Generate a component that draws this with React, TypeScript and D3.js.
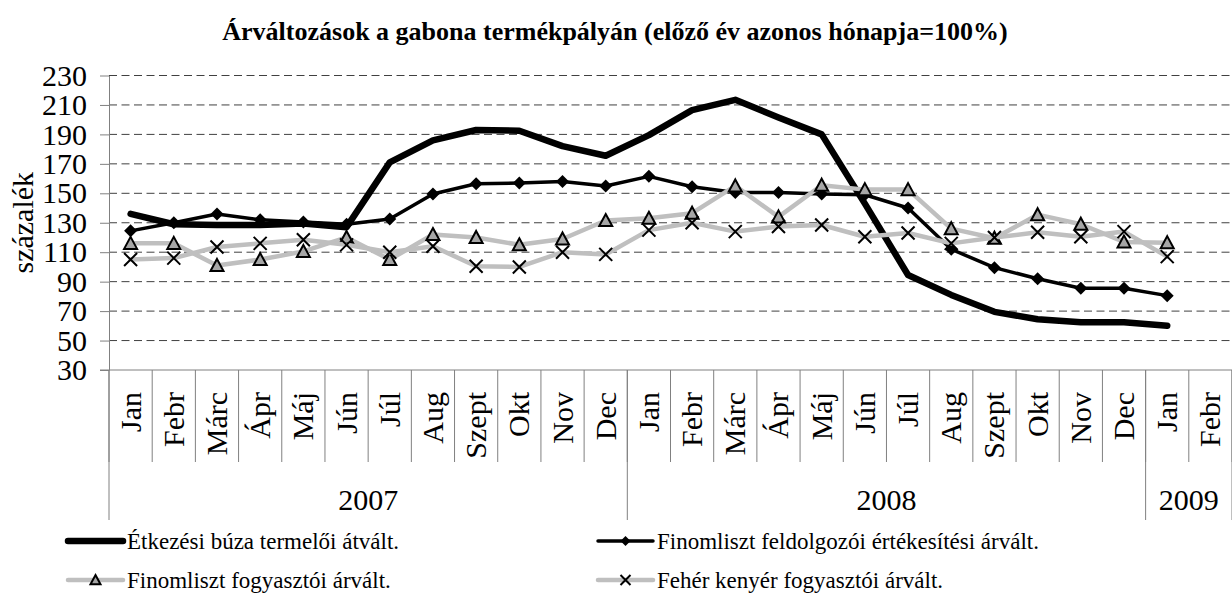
import React, { useEffect, useRef } from 'react';
import * as d3 from 'd3';

// categories (bottom axis)
const months = [
    'Jan', 'Febr', 'Márc', 'Ápr', 'Máj', 'Jún', 'Júl', 'Aug', 'Szept', 'Okt', 'Nov', 'Dec',
    'Jan', 'Febr', 'Márc', 'Ápr', 'Máj', 'Jún', 'Júl', 'Aug', 'Szept', 'Okt', 'Nov', 'Dec',
    'Jan', 'Febr',
];
const yearLabels = ['2007', '2008', '2009'];
const yearSpans = [12, 12, 2];
const yTicks = [30, 50, 70, 90, 110, 130, 150, 170, 190, 210, 230];

const seriesNames = [
    'Étkezési búza termelői átvált.',
    'Finomliszt feldolgozói értékesítési árvált.',
    'Finomliszt fogyasztói árvált.',
    'Fehér kenyér fogyasztói árvált.',
];

// values, % of same month of previous year (Febr 2009 has no data)
const buza = [136, 129, 128.5, 128.5, 129.5, 127, 171, 186, 193, 192.5, 182, 175.5,
    189.5, 206.5, 213.5, 201.5, 190, 143, 94.5, 81, 69.5, 64.5, 62.5, 62.5, 60, null];
const lisztFeldolg = [124.5, 130, 136, 132, 130.5, 129, 132.5, 149.5, 156.5, 157, 158, 155,
    161.5, 154.5, 150.5, 150.5, 149.5, 149, 140, 112, 99.5, 92, 85.5, 85.5, 80.5, null];
const lisztFogy = [116, 116, 101, 105, 110.5, 120, 105, 122, 120, 115, 119, 131.5,
    133, 136.5, 155, 134, 155.5, 152.5, 152.5, 126, 119.5, 135.5, 129, 117, 116.5, null];
const kenyer = [105, 106, 113.5, 116, 118.5, 115, 110, 114, 100.5, 100, 110, 108.5,
    125, 130, 124, 127.5, 128.5, 120.5, 123, 116, 120, 123.5, 120.5, 124, 107, null];

const FONT = '"Liberation Serif", "Times New Roman", serif';
const GREY = '#bfbfbf';

const App = () => {
    const svgRef = useRef(null);

    useEffect(() => {
        if (!svgRef.current) return;
        const svg = d3.select(svgRef.current);
        svg.selectAll('*').remove();

        const left = 109, right = 1232, top = 75.5, bottom = 370;

        const x = d3.scaleBand<number>()
            .domain(months.map((_, i) => i))
            .range([left, right]);
        const bw = x.bandwidth();
        const cx = (i: number) => (x(i) as number) + bw / 2;

        const y = d3.scaleLinear()
            .domain([30, 230])
            .range([bottom, top]);

        // Title
        svg.append('text')
            .attr('x', 615)
            .attr('y', 40)
            .attr('text-anchor', 'middle')
            .attr('font-family', FONT)
            .attr('font-weight', 'bold')
            .attr('font-size', 26)
            .text('Árváltozások a gabona termékpályán (előző év azonos hónapja=100%)');

        // Gridlines (dashed)
        svg.append('g')
            .selectAll('line')
            .data(yTicks.filter(t => t !== 30))
            .join('line')
            .attr('x1', left)
            .attr('x2', right)
            .attr('y1', d => y(d))
            .attr('y2', d => y(d))
            .attr('stroke', '#404040')
            .attr('stroke-width', 1)
            .attr('stroke-dasharray', '8,4.5');

        // Y axis
        const yAxis = d3.axisLeft(y)
            .tickValues(yTicks)
            .tickSize(9)
            .tickSizeOuter(0)
            .tickPadding(13);
        const ya = svg.append('g')
            .attr('transform', `translate(${left},0)`)
            .attr('font-family', FONT)
            .call(yAxis);
        ya.selectAll('line').attr('stroke', '#808080');
        ya.select('.domain').attr('stroke', '#808080');
        ya.selectAll('text')
            .attr('font-family', FONT)
            .attr('font-size', 30)
            .attr('fill', '#000');

        svg.append('text')
            .attr('transform', `translate(33,${(top + bottom) / 2}) rotate(-90)`)
            .attr('text-anchor', 'middle')
            .attr('font-family', FONT)
            .attr('font-size', 30)
            .text('százalék');

        // X axis: line, month dividers, year dividers
        const xa = svg.append('g');
        xa.append('line')
            .attr('x1', left - 9).attr('x2', right)
            .attr('y1', bottom).attr('y2', bottom)
            .attr('stroke', '#808080');

        const bounds = d3.range(months.length + 1).map(i => left + i * bw);
        xa.selectAll('line.m')
            .data(bounds)
            .join('line')
            .attr('class', 'm')
            .attr('x1', d => d).attr('x2', d => d)
            .attr('y1', bottom).attr('y2', 462)
            .attr('stroke', '#808080');

        const yearBounds = [0, ...d3.cumsum(yearSpans)];
        xa.selectAll('line.y')
            .data(yearBounds)
            .join('line')
            .attr('class', 'y')
            .attr('x1', d => left + d * bw).attr('x2', d => left + d * bw)
            .attr('y1', bottom).attr('y2', 520)
            .attr('stroke', '#808080');

        xa.selectAll('text.m')
            .data(months)
            .join('text')
            .attr('class', 'm')
            .attr('transform', (d, i) => `translate(${cx(i) + 10},392) rotate(-90)`)
            .attr('text-anchor', 'end')
            .attr('font-family', FONT)
            .attr('font-size', 30)
            .text(d => d);

        xa.selectAll('text.y')
            .data(yearLabels)
            .join('text')
            .attr('class', 'y')
            .attr('x', (d, i) => left + ((yearBounds[i] + yearBounds[i + 1]) / 2) * bw)
            .attr('y', 510)
            .attr('text-anchor', 'middle')
            .attr('font-family', FONT)
            .attr('font-size', 30)
            .text(d => d);

        // Markers
        const diamond = (r: number) => `M0,${-r}L${r},0L0,${r}L${-r},0Z`;
        const triangle = (r: number) => `M0,${-r}L${r},${r * 0.85}L${-r},${r * 0.85}Z`;
        const cross = (r: number) => `M${-r},${-r}L${r},${r}M${-r},${r}L${r},${-r}`;

        const line = d3.line<number | null>()
            .defined(d => d != null)
            .x((d, i) => cx(i))
            .y(d => y(d as number));

        const series = [
            { data: buza, color: '#000', width: 6.5 },
            { data: lisztFeldolg, color: '#000', width: 3.5, marker: 'diamond' },
            { data: lisztFogy, color: GREY, width: 4.5, marker: 'triangle' },
            { data: kenyer, color: GREY, width: 4.5, marker: 'cross' },
        ];

        const drawMarker = (g, kind, r) => {
            if (kind === 'diamond') {
                g.append('path').attr('d', diamond(r)).attr('fill', '#000');
            } else if (kind === 'triangle') {
                g.append('path').attr('d', triangle(r))
                    .attr('fill', '#a6a6a6').attr('stroke', '#000').attr('stroke-width', 2)
                    .attr('stroke-linejoin', 'miter');
            } else if (kind === 'cross') {
                g.append('path').attr('d', cross(r))
                    .attr('fill', 'none').attr('stroke', '#000').attr('stroke-width', 2);
            }
        };

        series.forEach(s => {
            const g = svg.append('g');
            g.append('path')
                .datum(s.data)
                .attr('fill', 'none')
                .attr('stroke', s.color)
                .attr('stroke-width', s.width)
                .attr('stroke-linejoin', 'round')
                .attr('stroke-linecap', 'round')
                .attr('d', line);
            if (s.marker) {
                s.data.forEach((v, i) => {
                    if (v == null) return;
                    const mg = g.append('g').attr('transform', `translate(${cx(i)},${y(v)})`);
                    drawMarker(mg, s.marker, 6.5);
                });
            }
        });

        // Legend
        const legendPos = [
            { lx: 68, ly: 541 },
            { lx: 598, ly: 541 },
            { lx: 68, ly: 580 },
            { lx: 598, ly: 580 },
        ];
        series.forEach((s, i) => {
            const p = legendPos[i];
            const g = svg.append('g').attr('transform', `translate(${p.lx},${p.ly})`);
            g.append('line')
                .attr('x1', 0).attr('x2', 55)
                .attr('y1', 0).attr('y2', 0)
                .attr('stroke', s.color)
                .attr('stroke-width', s.width)
                .attr('stroke-linecap', 'round');
            if (s.marker) {
                const mg = g.append('g').attr('transform', 'translate(27.5,0)');
                drawMarker(mg, s.marker, 5);
            }
            g.append('text')
                .attr('x', 59)
                .attr('y', 8)
                .attr('font-family', FONT)
                .attr('font-size', 23)
                .text(seriesNames[i]);
        });
    }, []);

    return (
        <svg
            ref={svgRef}
            width={1232}
            height={593}
            style={{ position: 'absolute', left: 0, top: 0, background: '#fff' }}
        />
    );
};

export default App;
